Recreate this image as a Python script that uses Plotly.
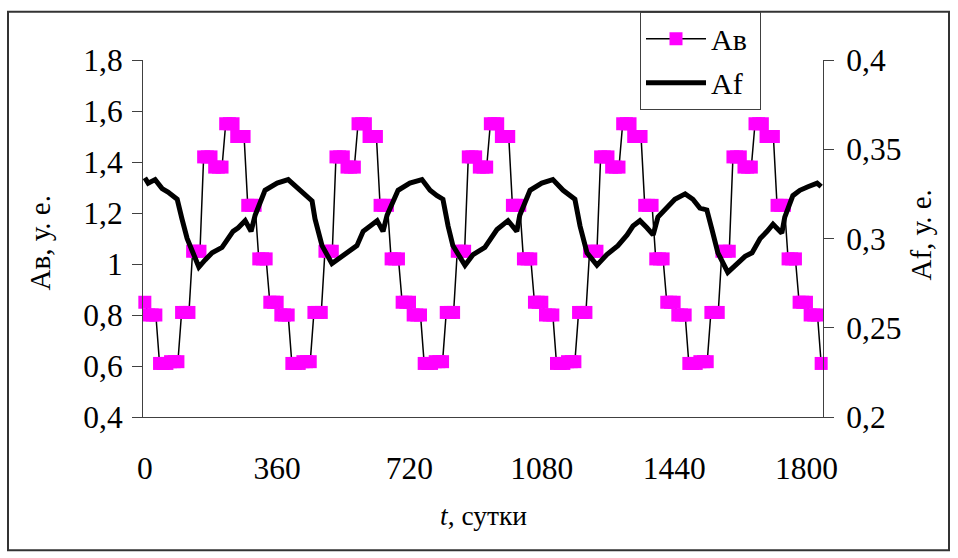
import plotly.graph_objects as go

# categories: one sample every 10 days
days = list(range(0, 1850, 10))

# Ав, у. е. (monthly values held over 3 samples each)
av = [0.85,
      0.80, 0.80, 0.80, 0.61, 0.61, 0.61, 0.617, 0.617, 0.617, 0.81, 0.81, 0.81,
      1.05, 1.05, 1.05, 1.42, 1.42, 1.42, 1.38, 1.38, 1.38, 1.55, 1.55, 1.55,
      1.50, 1.50, 1.50, 1.23, 1.23, 1.23, 1.02, 1.02, 1.02, 0.85, 0.85, 0.85,
      0.80, 0.80, 0.80, 0.61, 0.61, 0.61, 0.617, 0.617, 0.617, 0.81, 0.81, 0.81,
      1.05, 1.05, 1.05, 1.42, 1.42, 1.42, 1.38, 1.38, 1.38, 1.55, 1.55, 1.55,
      1.50, 1.50, 1.50, 1.23, 1.23, 1.23, 1.02, 1.02, 1.02, 0.85, 0.85, 0.85,
      0.80, 0.80, 0.80, 0.61, 0.61, 0.61, 0.617, 0.617, 0.617, 0.81, 0.81, 0.81,
      1.05, 1.05, 1.05, 1.42, 1.42, 1.42, 1.38, 1.38, 1.38, 1.55, 1.55, 1.55,
      1.50, 1.50, 1.50, 1.23, 1.23, 1.23, 1.02, 1.02, 1.02, 0.85, 0.85, 0.85,
      0.80, 0.80, 0.80, 0.61, 0.61, 0.61, 0.617, 0.617, 0.617, 0.81, 0.81, 0.81,
      1.05, 1.05, 1.05, 1.42, 1.42, 1.42, 1.38, 1.38, 1.38, 1.55, 1.55, 1.55,
      1.50, 1.50, 1.50, 1.23, 1.23, 1.23, 1.02, 1.02, 1.02, 0.85, 0.85, 0.85,
      0.80, 0.80, 0.80, 0.61, 0.61, 0.61, 0.617, 0.617, 0.617, 0.81, 0.81, 0.81,
      1.05, 1.05, 1.05, 1.42, 1.42, 1.42, 1.38, 1.38, 1.38, 1.55, 1.55, 1.55,
      1.50, 1.50, 1.50, 1.23, 1.23, 1.23, 1.02, 1.02, 1.02, 0.85, 0.85, 0.85,
      0.80, 0.80, 0.80, 0.61]

# Af, у. е.
af_day = [0, 9, 28, 47, 63, 88, 101, 115, 131, 147,
          164, 183, 210, 226, 240, 254, 273, 289, 300, 327,
          360, 390, 428, 455, 463, 482, 509, 536, 577, 594,
          632, 648, 659, 689, 721, 754, 776, 795, 811, 825,
          838, 871, 893, 925, 947, 958, 988, 1012, 1020, 1048,
          1080, 1110, 1138, 1170, 1184, 1203, 1230, 1257, 1287, 1312,
          1328, 1347, 1366, 1383, 1396, 1421, 1442, 1470, 1491, 1510,
          1529, 1543, 1559, 1586, 1611, 1633, 1652, 1674, 1693, 1709,
          1733, 1741, 1763, 1782, 1804, 1829, 1840]
af = [0.334, 0.331, 0.333, 0.328, 0.326, 0.322, 0.311, 0.300, 0.292, 0.284,
      0.288, 0.292, 0.295, 0.300, 0.304, 0.306, 0.310, 0.304, 0.313, 0.327,
      0.331, 0.333, 0.326, 0.321, 0.311, 0.296, 0.286, 0.290, 0.296, 0.304,
      0.310, 0.304, 0.313, 0.327, 0.331, 0.333, 0.327, 0.324, 0.322, 0.307,
      0.296, 0.285, 0.291, 0.295, 0.302, 0.305, 0.310, 0.304, 0.313, 0.327,
      0.331, 0.333, 0.327, 0.322, 0.307, 0.292, 0.285, 0.291, 0.296, 0.302,
      0.307, 0.310, 0.306, 0.302, 0.312, 0.318, 0.322, 0.325, 0.322, 0.317,
      0.316, 0.305, 0.292, 0.281, 0.286, 0.290, 0.292, 0.300, 0.304, 0.308,
      0.303, 0.312, 0.324, 0.327, 0.329, 0.331, 0.329]

x_ticks = [0, 360, 720, 1080, 1440, 1800]
x_labels = ["0", "360", "720", "1080", "1440", "1800"]
y1_ticks = [0.4, 0.6, 0.8, 1.0, 1.2, 1.4, 1.6, 1.8]
y1_labels = ["0,4", "0,6", "0,8", "1", "1,2", "1,4", "1,6", "1,8"]
y2_ticks = [0.2, 0.25, 0.3, 0.35, 0.4]
y2_labels = ["0,2", "0,25", "0,3", "0,35", "0,4"]

FONT = "Liberation Serif"
AX = "#404040"
W, H = 958, 558
L, R, T, B = 143, 135, 55, 141
PW, PH = W - L - R, H - T - B


def px(x):
    return (x - L) / PW


def py(y):
    return (H - B - y) / PH


fig = go.Figure()
fig.add_trace(go.Scatter(
    x=days, y=av, mode="lines+markers", name="Ав\u00a0",
    line=dict(color="black", width=1.5),
    marker=dict(symbol="square", size=13, color="#FF00FF", line=dict(width=0)),
    cliponaxis=False, legendgroup="a", xaxis="x", yaxis="y"))
fig.add_trace(go.Scatter(
    x=af_day, y=af, mode="lines", name="Af",
    line=dict(color="black", width=5),
    legendgroup="b", xaxis="x", yaxis="y2"))

tickfont = dict(family=FONT, size=31.5, color="black")
xr = [-5, 1845]

fig.update_layout(
    width=W, height=H,
    margin=dict(l=L, r=R, t=T, b=B),
    paper_bgcolor="white", plot_bgcolor="white",
    showlegend=True,
    xaxis=dict(range=xr, tickvals=x_ticks, ticktext=x_labels, ticks="",
               showline=True, linecolor=AX, linewidth=1, showgrid=False,
               zeroline=False, tickfont=tickfont, ticklabelstandoff=23),
    xaxis2=dict(range=xr, overlaying="x", anchor="y", side="bottom",
                tickvals=[-5], ticktext=[""], ticks="outside", ticklen=10,
                tickcolor=AX, showline=False, showgrid=False, zeroline=False,
                showticklabels=False),
    yaxis=dict(range=[0.4, 1.8], tickvals=y1_ticks, ticktext=y1_labels,
               ticks="outside", ticklen=10, tickcolor=AX, showline=True,
               linecolor=AX, linewidth=1, showgrid=False, zeroline=False,
               tickfont=tickfont, ticklabelstandoff=3),
    yaxis3=dict(range=[0.4, 1.8], overlaying="y", side="left", anchor="x",
                tickvals=y1_ticks, ticks="inside", ticklen=9, tickcolor=AX,
                showticklabels=False, showline=False, showgrid=False,
                zeroline=False),
    yaxis2=dict(range=[0.2, 0.4], overlaying="y", side="right", anchor="x",
                tickvals=y2_ticks, ticktext=y2_labels, ticks="outside",
                ticklen=10, tickcolor=AX, showline=True, linecolor=AX,
                linewidth=1, showgrid=False, zeroline=False,
                tickfont=tickfont, ticklabelstandoff=6),
    yaxis4=dict(range=[0.2, 0.4], overlaying="y", side="right", anchor="x",
                tickvals=y2_ticks, ticks="inside", ticklen=10, tickcolor=AX,
                showticklabels=False, showline=False, showgrid=False,
                zeroline=False),
    legend=dict(x=px(640), y=py(6), xanchor="left", yanchor="top",
                bgcolor="white", bordercolor=AX, borderwidth=1,
                font=dict(family=FONT, size=30, color="black"),
                itemwidth=60, traceorder="grouped", tracegroupgap=2),
    shapes=[dict(type="rect", xref="paper", yref="paper",
                 x0=px(8), x1=px(949), y0=py(552), y1=py(6),
                 line=dict(color="#333333", width=2), layer="below")],
    annotations=[
        dict(text="Ав, у. е.", xref="paper", yref="paper", x=px(40), y=py(241),
             textangle=-90, showarrow=False, xanchor="center", yanchor="middle",
             font=dict(family=FONT, size=29, color="black")),
        dict(text="Af, у. е.", xref="paper", yref="paper", x=px(921), y=py(233),
             textangle=-90, showarrow=False, xanchor="center", yanchor="middle",
             font=dict(family=FONT, size=29, color="black")),
        dict(text="<i>t</i>, сутки", xref="paper", yref="paper", x=px(483),
             y=py(517), showarrow=False, xanchor="center", yanchor="middle",
             font=dict(family=FONT, size=27.5, color="black")),
    ],
)

fig.write_html("out.html",
               config={"displayModeBar": False},
               post_script="document.body.style.margin='0';"
                           "document.body.style.overflow='hidden';")
